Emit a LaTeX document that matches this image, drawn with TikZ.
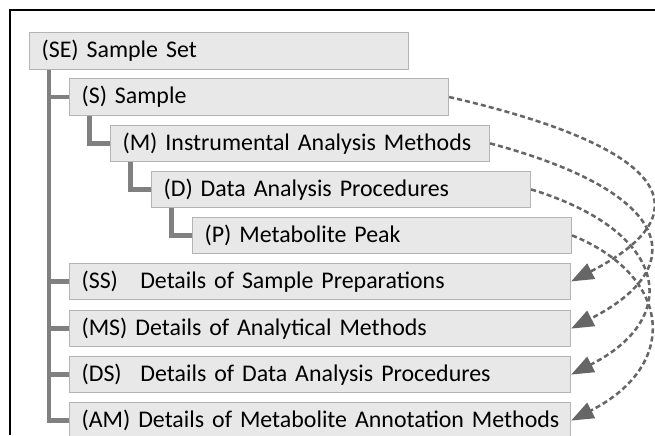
\documentclass[tikz,border=0pt]{standalone}
\usepackage{fontspec}
\setmainfont{Carlito}
\usepackage{tikz}
\usetikzlibrary{positioning, arrows.meta, calc}

\definecolor{boxfill}{HTML}{E8E8E8}
\definecolor{boxline}{HTML}{B4B4B4}
\definecolor{treeline}{HTML}{808080}
\definecolor{linkline}{HTML}{666666}

\begin{document}
\begin{tikzpicture}[
  font=\fontsize{17}{20}\selectfont,
  box/.style={draw=boxline, fill=boxfill, line width=0.8pt, anchor=west, minimum height=0.915cm, inner xsep=0.3cm, text width=8.875cm,
    execute at begin node={\hbox\bgroup}, execute at end node={\egroup}},
  widebox/.style={box, text width=11.925cm},
  tree/.style={draw=treeline, line width=3.5pt},
  link/.style={draw=linkline, line width=1.8pt, dash pattern=on 3.6pt off 2.2pt, -{Triangle[length=16pt, width=12pt]}}
]
\clip (0, 0) rectangle (16.375, 10.875);
\draw[line width=1pt] (0.25, 0) -- (0.25, 10.625) -- (16.375, 10.625);

\node[box] (se) at (0.725, 9.6) {(SE) Sample Set};
\node[box] (s) at (1.725, 8.45) {(S) Sample};
\node[box] (m) at (2.75, 7.29) {(M) Instrumental Analysis Methods};
\node[box] (d) at (3.775, 6.14) {(D) Data Analysis Procedures};
\node[box] (p) at (4.8, 4.99) {(P) Metabolite Peak};

\node[widebox] (ss) at (1.725, 3.84) {(SS)\hspace{0.6em} Details of Sample Preparations};
\node[widebox] (ms) at (1.725, 2.66) {(MS) Details of Analytical Methods};
\node[widebox] (ds) at (1.725, 1.51) {(DS)\hspace{0.45em} Details of Data Analysis Procedures};
\node[widebox] (am) at (1.725, 0.36) {(AM) Details of Metabolite Annotation Methods};

% tree
\coordinate (t1) at ($(se.south west)+(0.5,0)$);
\draw[tree] (t1) |- (am.west);
\foreach \n in {s, ss, ms, ds}
  \draw[tree] (t1 |- \n.west) -- (\n.west);
\foreach \a/\b in {s/m, m/d, d/p}
  \draw[tree] ($(\a.south west)+(0.52,0)$) |- (\b.west);

% links
\draw[link] (s.east) .. controls +(-13:6.1) and +(27:3.5) .. (ss.east);
\draw[link] (m.east) .. controls +(-15:4.85) and +(27:3.35) .. (ms.east);
\draw[link] (d.east) .. controls +(-17:3.6) and +(27:3.15) .. (ds.east);
\draw[link] (p.east) .. controls +(-22:2.65) and +(27:3.1) .. (am.east);
\end{tikzpicture}
\end{document}
